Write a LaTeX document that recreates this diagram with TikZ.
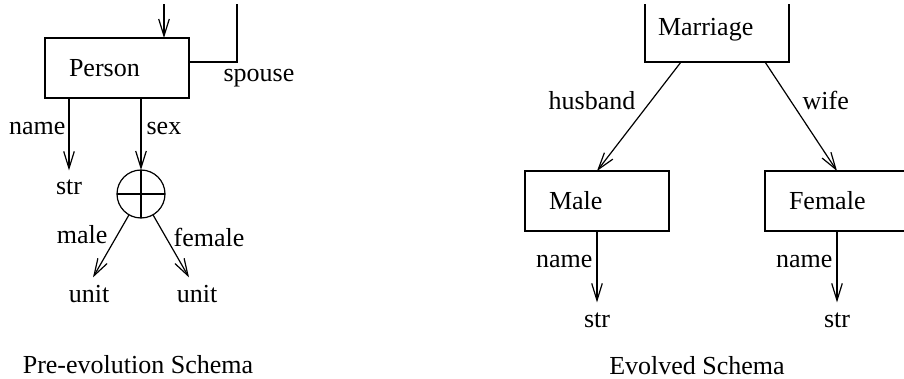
\documentclass[tikz,border=0pt]{standalone}
\usepackage{fontspec}
\setmainfont{Liberation Serif}
\usetikzlibrary{arrows.meta}
\tikzset{
  schemabox/.style={draw, rectangle, outer sep=0pt, inner xsep=12pt, text width=48pt, align=left, minimum height=30pt},
  leaf/.style={inner sep=0pt, anchor=base, text height=12pt},
  lbl/.style={inner sep=0pt}
}
\begin{document}
\begin{tikzpicture}[x=0.5pt,y=-0.5pt,line width=0.6pt,font=\fontsize{13}{15}\selectfont,>={Straight Barb[length=8.5pt,width=5.3pt]}]
\useasboundingbox (0,0) rectangle (904,379);
\clip (0,5) rectangle (904,379);
\node [schemabox] (person) at (117,68) {Person};
\coordinate (topin) at (164,0);
\coordinate (spouseend) at (237,0);
\draw [->] (topin) -- (topin |- person.north);
\draw ([yshift=3pt]person.east) -| (spouseend);
\draw (223,82) node [lbl, anchor=base west] (lspouse) {spouse};
\node [leaf] (strA) at (69,195) {str};
\node [draw, circle, minimum size=24pt, inner sep=0pt, outer sep=0pt] (xor) at (141,194) {};
\draw (xor.north) -- (xor.south);
\draw (xor.west) -- (xor.east);
\draw [->] ([xshift=-24pt]person.south) -- (strA.north);
\draw (66,135) node [lbl, anchor=base east] (lnameA) {name};
\draw [->] ([xshift=12pt]person.south) -- (xor.north);
\draw (146,135) node [lbl, anchor=base west] (lsex) {sex};
\node [leaf] (unitA) at (89,302) {unit};
\node [leaf] (unitB) at (197,302) {unit};
\draw [->] (xor) -- ([xshift=2pt]unitA.north);
\draw (108,243) node [lbl, anchor=base east] (lmale) {male};
\draw [->] (xor) -- ([xshift=-4pt]unitB.north);
\draw (173,247) node [lbl, anchor=base west] (lfemale) {female};
\draw (138,373) node [lbl, anchor=base] (capA) {Pre-evolution Schema};
\node [schemabox, inner xsep=6.5pt, text width=59pt, minimum height=32.5pt] (marriage) at (717,29.5) {Marriage};
\node [schemabox] (male) at (597,201) {Male};
\node [schemabox] (female) at (837,201) {Female};
\draw [->] ([xshift=-18pt]marriage.south) -- (male.north);
\draw (636,110) node [lbl, anchor=base east] (lhusband) {husband};
\draw [->] ([xshift=24pt]marriage.south) -- (female.north);
\draw (802,110) node [lbl, anchor=base west] (lwife) {wife};
\node [leaf] (strC) at (597,327) {str};
\node [leaf] (strD) at (837,327) {str};
\draw [->] (male.south) -- (strC.north);
\draw (593,267) node [lbl, anchor=base east] (lnameC) {name};
\draw [->] (female.south) -- (strD.north);
\draw (833,267) node [lbl, anchor=base east] (lnameD) {name};
\draw (697,374) node [lbl, anchor=base] (capB) {Evolved Schema};
\end{tikzpicture}
\end{document}
